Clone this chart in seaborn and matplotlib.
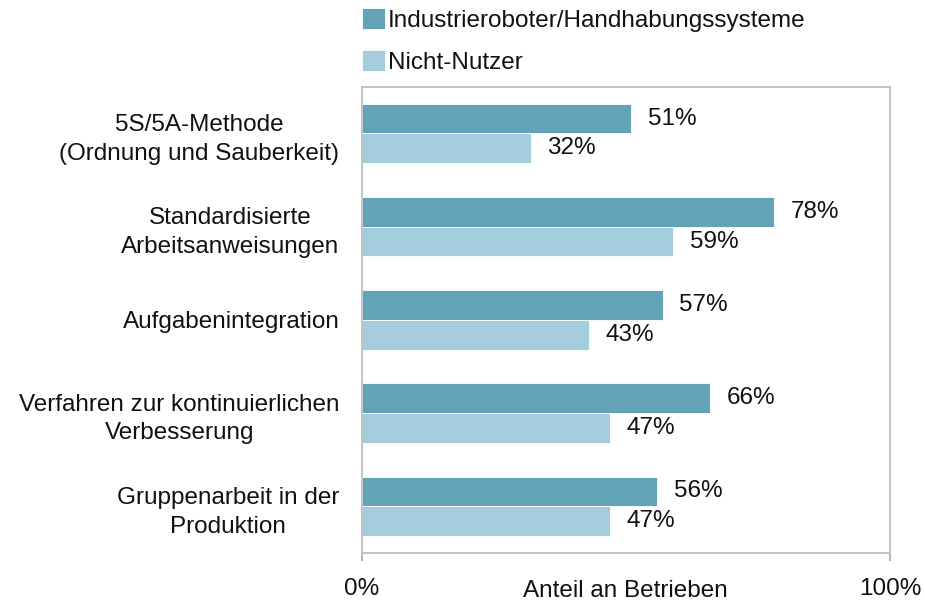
import matplotlib

matplotlib.use("Agg")

import matplotlib.pyplot as plt
import pandas as pd
import seaborn as sns

categories = [
    "5S/5A-Methode\n(Ordnung und Sauberkeit)",
    "Standardisierte\nArbeitsanweisungen",
    "Aufgabenintegration",
    "Verfahren zur kontinuierlichen\nVerbesserung",
    "Gruppenarbeit in der\nProduktion",
]
series = ["Industrieroboter/Handhabungssysteme", "Nicht-Nutzer"]
robots = [51, 78, 57, 66, 56]
non_users = [32, 59, 43, 47, 47]
colors = ["#62A3B7", "#A3CCDC"]

df = pd.DataFrame({
    "Kategorie": categories * 2,
    "Gruppe": [series[0]] * len(categories) + [series[1]] * len(categories),
    "Wert": robots + non_users,
})

sns.set_theme(style="white")
plt.rcParams["font.family"] = ["Liberation Sans", "DejaVu Sans"]
FS = 17.5

fig = plt.figure(figsize=(9.25, 6.03), dpi=100)
ax = fig.add_axes([0.391, 0.083, 0.571, 0.773])

sns.barplot(
    data=df, y="Kategorie", x="Wert", hue="Gruppe", orient="h",
    palette=colors, saturation=1, width=0.64, edgecolor="white", linewidth=0.6,
    ax=ax, legend=True,
)

for cont in ax.containers:
    ax.bar_label(cont, labels=[f"{v:.0f}%" for v in cont.datavalues],
                 padding=12, fontsize=FS, color="#111111")

ax.set_xlim(0, 100)
ax.set_ylim(4.5, -0.5)
ax.set_xticks([0, 100])
ax.set_xticklabels(["0%", "100%"], fontsize=FS, color="#111111")
ax.tick_params(axis="x", length=6, width=1.2, color="#A6A6A6", pad=12, bottom=True)
ax.tick_params(axis="y", length=0, pad=16, labelsize=FS, labelcolor="#111111")
for lab in ax.get_yticklabels():
    lab.set_multialignment("center")
    lab.set_linespacing(1.4)
ax.set_ylabel("")
ax.set_xlabel("Anteil an Betrieben", fontsize=FS, color="#111111")
ax.xaxis.set_label_coords(0.5, -0.058)
ax.xaxis.label.set_va("top")

for sp in ax.spines.values():
    sp.set_visible(True)
    sp.set_color("#BFBFBF")
    sp.set_linewidth(1.3)

handles, labels = ax.get_legend_handles_labels()
ax.get_legend().remove()
leg = fig.legend(handles, labels, loc="upper left", bbox_to_anchor=(0.381, 1.003),
                 frameon=False, fontsize=FS, handlelength=0.95, handleheight=0.95,
                 handletextpad=0.1, labelspacing=0.75, borderaxespad=0)
for t in leg.get_texts():
    t.set_color("#111111")

fig.savefig("out.png", dpi=100)
